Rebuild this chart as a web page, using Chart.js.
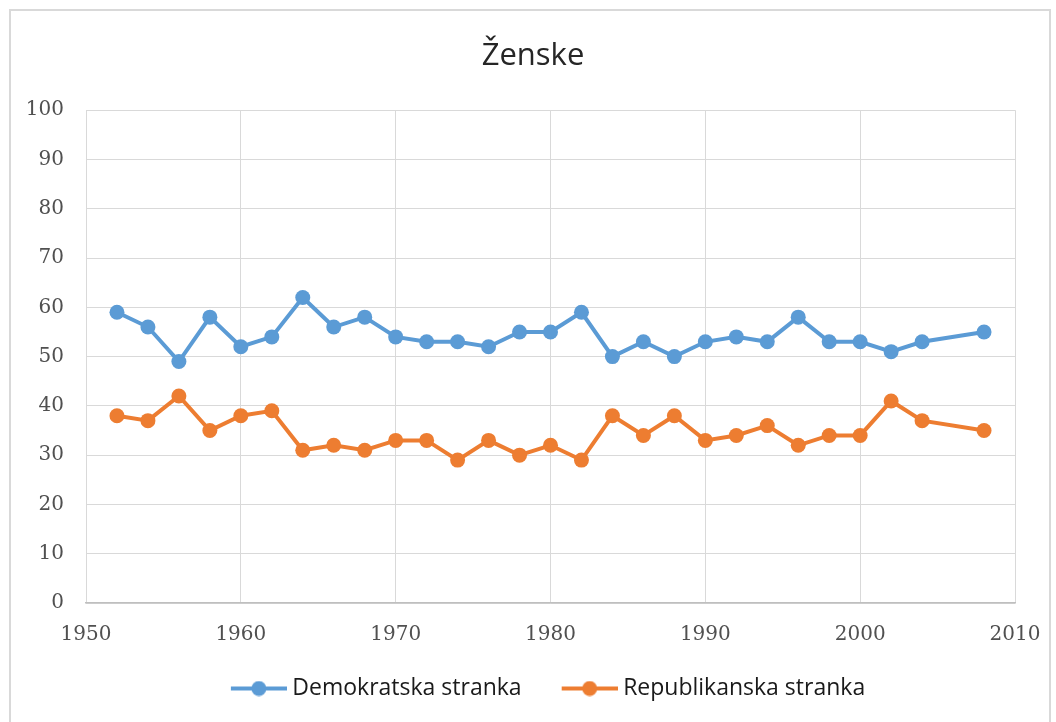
<!DOCTYPE html>
<html>
<head>
<meta charset="utf-8">
<script src="https://cdn.jsdelivr.net/npm/chart.js@4"></script>
<style>
  html, body { margin: 0; padding: 0; background: #fff; }
  #frame {
    position: absolute; left: 9px; top: 9px; width: 1042px; height: 720px;
    border: 2px solid #d9d9d9; box-sizing: border-box;
  }
  #wrap { position: absolute; left: 0; top: 0; width: 1056px; height: 722px; }
</style>
</head>
<body>
<div id="frame"></div>
<div id="wrap"><canvas id="chart"></canvas></div>
<script>
const years = [1952, 1954, 1956, 1958, 1960, 1962, 1964, 1966, 1968, 1970, 1972, 1974, 1976, 1978,
               1980, 1982, 1984, 1986, 1988, 1990, 1992, 1994, 1996, 1998, 2000, 2002, 2004, 2008];
const demokrati = [59, 56, 49, 58, 52, 54, 62, 56, 58, 54, 53, 53, 52, 55,
                   55, 59, 50, 53, 50, 53, 54, 53, 58, 53, 53, 51, 53, 55];
const republikanci = [38, 37, 42, 35, 38, 39, 31, 32, 31, 33, 33, 29, 33, 30,
                      32, 29, 38, 34, 38, 33, 34, 36, 32, 34, 34, 41, 37, 35];
const seriesNames = ['Demokratska stranka', 'Republikanska stranka'];
const colors = ['#5B9BD5', '#ED7D31'];

function toPoints(vals) {
  return years.map((y, i) => ({ x: y, y: vals[i] }));
}

// line-with-dot legend marker. The box is 80 wide, the image 92 wide and centred on it,
// so the left 30px stay blank (gap between items) and the marker runs close to the text.
const BOX_W = 80;
function marker(color) {
  const c = document.createElement('canvas');
  c.width = 92; c.height = 16;
  const g = c.getContext('2d');
  g.strokeStyle = color; g.lineWidth = 4;
  g.beginPath(); g.moveTo(36, 8); g.lineTo(92, 8); g.stroke();
  g.fillStyle = color;
  g.beginPath(); g.arc(64, 8, 7.5, 0, Math.PI * 2); g.fill();
  return c;
}
const markers = colors.map(marker);

const tickFont = { family: 'DejaVu Serif', size: 20 };

const ctx = document.getElementById('chart').getContext('2d');
new Chart(ctx, {
  type: 'line',
  data: {
    datasets: [
      {
        label: seriesNames[0],
        data: toPoints(demokrati),
        borderColor: colors[0],
        backgroundColor: colors[0],
        borderWidth: 4,
        pointRadius: 7.5,
        pointBorderWidth: 0,
        tension: 0
      },
      {
        label: seriesNames[1],
        data: toPoints(republikanci),
        borderColor: colors[1],
        backgroundColor: colors[1],
        borderWidth: 4,
        pointRadius: 7.5,
        pointBorderWidth: 0,
        tension: 0
      }
    ]
  },
  options: {
    responsive: true,
    maintainAspectRatio: false,
    animation: false,
    layout: { padding: { left: 28, right: 18, top: 38, bottom: 12 } },
    scales: {
      x: {
        type: 'linear',
        min: 1950,
        max: 2010,
        afterFit: function (scale) { scale.paddingRight = 41; },
        ticks: {
          stepSize: 10,
          padding: 20,
          color: '#505050',
          font: tickFont,
          callback: v => String(v)
        },
        grid: { color: '#d9d9d9', drawTicks: false },
        border: { color: '#bfbfbf', width: 1.5 }
      },
      y: {
        min: 0,
        max: 100,
        afterFit: function (scale) { scale.width = 58; },
        ticks: {
          stepSize: 10,
          padding: 22,
          color: '#505050',
          font: tickFont
        },
        grid: { color: '#d9d9d9', drawTicks: false },
        border: { display: false }
      }
    },
    plugins: {
      title: {
        display: true,
        text: 'Ženske',
        color: '#262626',
        font: { family: 'Open Sans', size: 31, weight: 'normal' },
        padding: { top: 0, bottom: 35 }
      },
      legend: {
        position: 'bottom',
        labels: {
          usePointStyle: true,
          pointStyleWidth: BOX_W,
          padding: 10,
          color: '#1a1a1a',
          font: { family: 'Open Sans', size: 23 },
          generateLabels: function (chart) {
            const items = Chart.defaults.plugins.legend.labels.generateLabels(chart);
            items.forEach(it => { it.pointStyle = markers[it.datasetIndex]; });
            return items;
          }
        }
      },
      tooltip: { enabled: false }
    }
  }
});
</script>
</body>
</html>
